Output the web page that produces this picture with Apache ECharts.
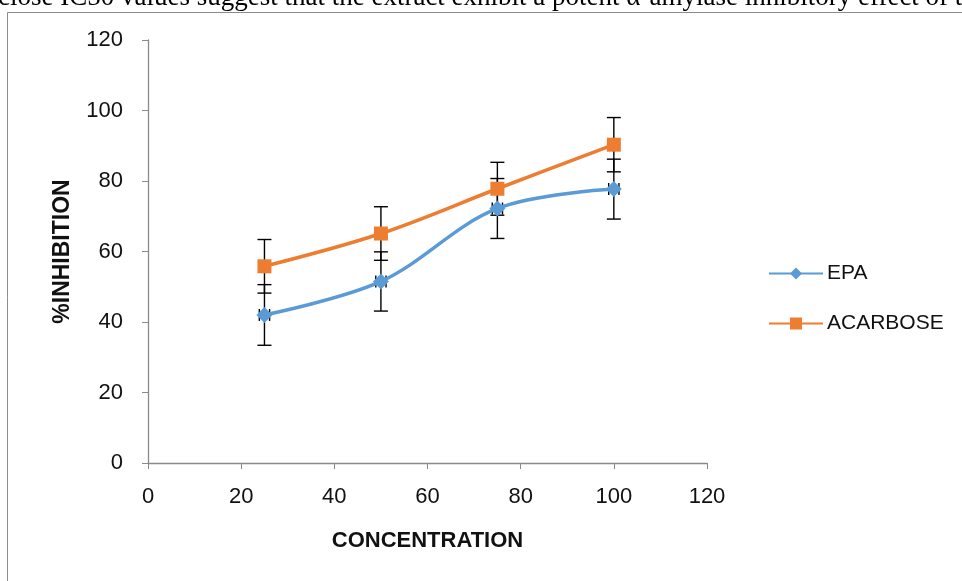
<!DOCTYPE html>
<html>
<head>
<meta charset="utf-8">
<script src="https://cdn.jsdelivr.net/npm/echarts@6/dist/echarts.min.js"></script>
<style>
  html, body { margin: 0; padding: 0; background: #fff; }
  #chart { width: 962px; height: 581px; }
</style>
</head>
<body>
<div id="chart"></div>
<script>
// Concentrations tested and mean % inhibition with standard deviation
const concentrations = [25, 50, 75, 100];
const epaValues = [42, 51.5, 72.2, 77.7];
const epaErrors = [8.6, 8.4, 8.5, 8.5];
const epaXErrors = [1.1, 1.1, 1.1, 1.1];
const acarboseValues = [55.8, 65.1, 77.8, 90.3];
const acarboseErrors = [7.6, 7.6, 7.5, 7.7];
const axisTicks = [0, 20, 40, 60, 80, 100, 120];

const caption = 'close IC50 values suggest that the extract exhibit a potent \u03b1-amylase inhibitory effect of t';

const chart = echarts.init(document.getElementById('chart'), null, { renderer: 'canvas' });

function pairs(xs, ys) { return xs.map((x, i) => [x, ys[i]]); }

// Vertical error bars (with optional horizontal whiskers) drawn through the axes
function errorSeries(name, values, yErr, xErr) {
  return {
    type: 'custom',
    name: name + ' error',
    z: 1,
    silent: true,
    data: concentrations.map((x, i) => [x, values[i], yErr[i], xErr ? xErr[i] : 0]),
    renderItem: function (params, api) {
      const x = api.value(0), y = api.value(1), e = api.value(2), ex = api.value(3);
      const top = api.coord([x, y + e]);
      const bot = api.coord([x, y - e]);
      const cap = 7;
      const style = { stroke: '#000', lineWidth: 1.4 };
      const children = [
        { type: 'line', shape: { x1: top[0], y1: top[1], x2: bot[0], y2: bot[1] }, style: style },
        { type: 'line', shape: { x1: top[0] - cap, y1: top[1], x2: top[0] + cap, y2: top[1] }, style: style },
        { type: 'line', shape: { x1: bot[0] - cap, y1: bot[1], x2: bot[0] + cap, y2: bot[1] }, style: style }
      ];
      if (ex > 0) {
        const l = api.coord([x - ex, y]);
        const r = api.coord([x + ex, y]);
        children.push(
          { type: 'line', shape: { x1: l[0], y1: l[1], x2: r[0], y2: r[1] }, style: style },
          { type: 'line', shape: { x1: l[0], y1: l[1] - 6, x2: l[0], y2: l[1] + 6 }, style: style },
          { type: 'line', shape: { x1: r[0], y1: r[1] - 6, x2: r[0], y2: r[1] + 6 }, style: style }
        );
      }
      return { type: 'group', children: children };
    }
  };
}

const axisFont = { fontFamily: 'Liberation Sans, Arial, sans-serif', fontSize: 22, color: '#111' };

chart.setOption({
  animation: false,
  backgroundColor: '#fff',
  grid: { left: 148, right: 255, top: 40, bottom: 118, containLabel: false },
  xAxis: {
    type: 'value', min: axisTicks[0], max: axisTicks[axisTicks.length - 1], interval: 20,
    name: 'CONCENTRATION', nameLocation: 'middle', nameGap: 67,
    nameTextStyle: { fontFamily: 'Liberation Sans, Arial, sans-serif', fontWeight: 'bold', fontSize: 22, color: '#111' },
    axisLine: { show: true, lineStyle: { color: '#8a8a8a', width: 1.3 } },
    axisTick: { show: true, length: 6, lineStyle: { color: '#8a8a8a' } },
    axisLabel: Object.assign({ margin: 23 }, axisFont),
    splitLine: { show: false }
  },
  yAxis: {
    type: 'value', min: axisTicks[0], max: axisTicks[axisTicks.length - 1], interval: 20,
    name: '%INHIBITION', nameLocation: 'middle', nameGap: 74, nameRotate: 90,
    nameTextStyle: { fontFamily: 'Liberation Sans, Arial, sans-serif', fontWeight: 'bold', fontSize: 23, color: '#111' },
    axisLine: { show: true, lineStyle: { color: '#8a8a8a', width: 1.3 } },
    axisTick: { show: true, length: 6, lineStyle: { color: '#8a8a8a' } },
    axisLabel: Object.assign({ margin: 25 }, axisFont),
    splitLine: { show: false }
  },
  legend: {
    orient: 'vertical', left: 763, top: 258, itemGap: 29,
    itemWidth: 54, itemHeight: 15,
    textStyle: { fontFamily: 'Liberation Sans, Arial, sans-serif', fontSize: 21, color: '#111', padding: [0, 0, 0, -1] },
    data: ['EPA', 'ACARBOSE']
  },
  graphic: [
    { type: 'rect', shape: { x: 7.5, y: 12.5, width: 3000, height: 3000 },
      style: { fill: 'none', stroke: '#8c8c8c', lineWidth: 1 }, z: -10, silent: true },
    { type: 'text', x: -2, y: 11, silent: true,
      style: { text: caption, font: '27px "Liberation Serif", "Times New Roman", serif',
               fill: '#000', verticalAlign: 'bottom' } }
  ],
  series: [
    errorSeries('EPA', epaValues, epaErrors, epaXErrors),
    errorSeries('ACARBOSE', acarboseValues, acarboseErrors, null),
    {
      name: 'EPA', type: 'line', z: 3, smooth: 0.35,
      data: pairs(concentrations, epaValues),
      symbol: 'diamond', symbolSize: 16,
      lineStyle: { color: '#5B9BD5', width: 3.5 },
      itemStyle: { color: '#5B9BD5' }
    },
    {
      name: 'ACARBOSE', type: 'line', z: 4, smooth: 0.35,
      data: pairs(concentrations, acarboseValues),
      symbol: 'rect', symbolSize: 14,
      lineStyle: { color: '#ED7D31', width: 3.5 },
      itemStyle: { color: '#ED7D31' }
    }
  ]
});
</script>
</body>
</html>
